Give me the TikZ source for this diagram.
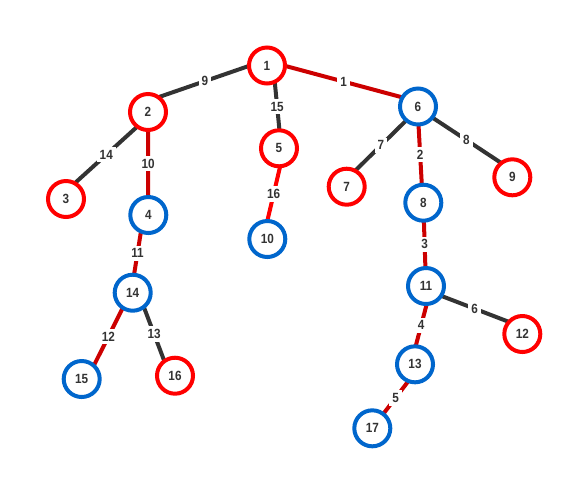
\documentclass[tikz,border=0pt]{standalone}
\usepackage{fontspec}
\setmainfont{Liberation Sans}
\newfontfamily\numfont[FakeStretch=0.88]{Liberation Sans}
\usetikzlibrary{backgrounds}
\definecolor{nred}{HTML}{FF0000}
\definecolor{nblue}{HTML}{0066CC}
\definecolor{ered}{HTML}{CC0000}
\definecolor{egray}{HTML}{333333}
\definecolor{txt}{HTML}{333333}
\begin{document}
\begin{tikzpicture}[x=0.75pt,y=-0.75pt,
  vtx/.style={circle,draw,line width=3pt,fill=white,minimum size=27pt,inner sep=0pt,font=\numfont\bfseries\fontsize{10}{10}\selectfont,text=txt},
  rv/.style={vtx,draw=nred},
  bv/.style={vtx,draw=nblue},
  ge/.style={draw=egray,line width=3pt},
  re/.style={draw=ered,line width=3pt},
  be/.style={draw=nred,line width=3pt},
  lbl/.style={fill=white,inner sep=2.3pt,font=\numfont\bfseries\fontsize{10}{10}\selectfont,text=txt}]
\useasboundingbox (0,0) rectangle (573,480);
\node[rv] (n1) at (267,65.5) {1};
\node[rv] (n2) at (148,112) {2};
\node[rv] (n3) at (66,199) {3};
\node[bv] (n4) at (148.3,215) {4};
\node[rv] (n5) at (279,148.3) {5};
\node[bv] (n6) at (418,106.5) {6};
\node[rv] (n7) at (346.7,186.7) {7};
\node[bv] (n8) at (423.3,202.7) {8};
\node[rv] (n9) at (512.3,177.3) {9};
\node[bv] (n10) at (267.3,239) {10};
\node[bv] (n11) at (426,286) {11};
\node[rv] (n12) at (522.3,334) {12};
\node[bv] (n13) at (415,364.3) {13};
\node[bv] (n14) at (132.7,292.7) {14};
\node[bv] (n15) at (81.7,379) {15};
\node[rv] (n16) at (175,375.7) {16};
\node[bv] (n17) at (372.3,428.3) {17};
\begin{scope}[on background layer]
\draw[ge] ([shift={(-3.4,-10)}]n2.center) -- node[lbl]{9} ([shift={(-1.8,-5.2)}]n1.center);
\draw[re] ([shift={(1.1,-4.2)}]n1.center) -- node[lbl]{1} ([shift={(1.2,-4.6)}]n6.center);
\draw[ge] ([shift={(6.1,-0.6)}]n1.center) -- node[lbl]{15} ([shift={(2.2,-0.2)}]n5.center);
\draw[ge] ([shift={(2.4,2.7)}]n2.center) -- node[lbl]{14} ([shift={(-3.9,-4.3)}]n3.center);
\draw[re] (n2.center) -- node[lbl]{10} (n4.center);
\draw[re] ([shift={(-4.6,-0.7)}]n4.center) -- node[lbl]{11} ([shift={(-1.5,-0.2)}]n14.center);
\draw[re] ([shift={(-1.9,-0.9)}]n14.center) -- node[lbl]{12} ([shift={(4.3,2.2)}]n15.center);
\draw[ge] ([shift={(5,-1.9)}]n14.center) -- node[lbl]{13} ([shift={(-4.5,1.7)}]n16.center);
\draw[be] ([shift={(5.1,1.2)}]n5.center) -- node[lbl]{16} ([shift={(-4,-1)}]n10.center);
\draw[ge] ([shift={(1.1,1.2)}]n6.center) -- node[lbl]{7} ([shift={(-3.8,-3.8)}]n7.center);
\draw[re] ([shift={(-0.5,0)}]n6.center) -- node[lbl]{2} ([shift={(-0.5,0)}]n8.center);
\draw[ge] ([shift={(-0.7,1.1)}]n6.center) -- node[lbl]{8} ([shift={(3.2,-4.9)}]n9.center);
\draw[re] (n8.center) -- node[lbl]{3} (n11.center);
\draw[ge] ([shift={(-1.3,3.5)}]n11.center) -- node[lbl]{6} ([shift={(2.3,-6.1)}]n12.center);
\draw[re] ([shift={(5.1,1.3)}]n11.center) -- node[lbl]{4} ([shift={(-3.8,-1)}]n13.center);
\draw[re] ([shift={(3.9,3)}]n13.center) -- node[lbl]{5} (n17.center);
\end{scope}
\end{tikzpicture}
\end{document}
